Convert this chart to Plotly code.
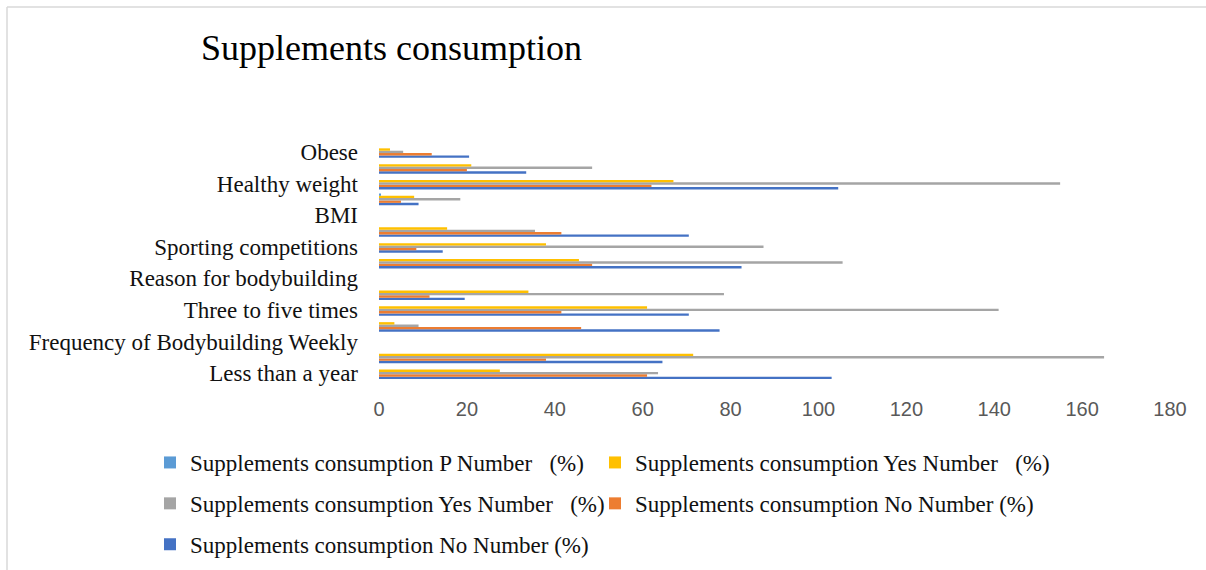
import plotly.graph_objects as go

# Categories, bottom to top (as drawn)
categories = [
    "Less than a year", "More than a year",
    "Frequency of Bodybuilding Weekly", "Less than three times",
    "Three to five times", "More than five times",
    "Reason for bodybuilding", "Health",
    "Sporting competitions", "Beauty",
    "BMI", "Underweight",
    "Healthy weight", "Overweight", "Obese",
]
shown_labels = [
    "Less than a year", "Frequency of Bodybuilding Weekly",
    "Three to five times", "Reason for bodybuilding",
    "Sporting competitions", "BMI", "Healthy weight", "Obese",
]

no_number = [103, 64.5, None, 77.5, 70.5, 19.5, None, 82.5, 14.5, 70.5, None, 9, 104.5, 33.5, 20.5]
no_pct = [61, 38, None, 46, 41.5, 11.5, None, 48.5, 8.5, 41.5, None, 5, 62, 20, 12]
yes_number = [63.5, 165, None, 9, 141, 78.5, None, 105.5, 87.5, 35.5, None, 18.5, 155, 48.5, 5.5]
yes_pct = [27.5, 71.5, None, 3.5, 61, 34, None, 45.5, 38, 15.5, None, 8, 67, 21, 2.5]
p_number = [0, 0, None, 0, 0, 0, None, 0, 0, 0, None, 0.4, 0, 0, 0]

x_ticks = [0, 20, 40, 60, 80, 100, 120, 140, 160, 180]

NB = "\u00a0"
# (name, values, colour, legend column, rank within column)
series = [
    ("Supplements consumption No Number (%)", no_number, "#4472C4", "legend", 3),
    ("Supplements consumption No Number (%)", no_pct, "#ED7D31", "legend2", 2),
    ("Supplements consumption Yes Number" + NB * 3 + "(%)", yes_number, "#A5A5A5", "legend", 2),
    ("Supplements consumption Yes Number" + NB * 3 + "(%)", yes_pct, "#FFC000", "legend2", 1),
    ("Supplements consumption P Number" + NB * 3 + "(%)", p_number, "#5B9BD5", "legend", 1),
]

fig = go.Figure()
for i, (name, vals, color, leg, rank) in enumerate(series):
    fig.add_trace(go.Bar(
        y=categories, x=vals, name=name, orientation="h",
        legend=leg, legendgroup=f"g{i}", legendrank=rank,
        marker=dict(color=color, line=dict(width=0)),
    ))

serif = "Liberation Serif"
L, R, T, B = 379, 36, 144, 189
PW, PH = 1206 - L - R, 570 - T - B


def px_x(px):
    return (px - L) / PW


def px_y(py):
    return (570 - B - py) / PH


legend_common = dict(
    orientation="v", traceorder="grouped", tracegroupgap=8,
    xanchor="left", yanchor="top",
    font=dict(family=serif, size=23, color="#111111"),
    bgcolor="rgba(0,0,0,0)",
)

fig.update_layout(
    width=1206, height=570,
    margin=dict(l=L, r=R, t=T, b=B, autoexpand=False),
    paper_bgcolor="white", plot_bgcolor="white",
    barmode="group", bargap=0.25, bargroupgap=0,
    title=dict(text="Supplements consumption", x=201 / 1206, xanchor="left",
               xref="container", y=1 - 47 / 570, yanchor="middle", yref="container",
               font=dict(family=serif, size=36, color="#000000")),
    xaxis=dict(range=[0, 180], tickvals=x_ticks, showgrid=False, zeroline=False,
               showline=False, ticks="", ticklabelstandoff=14,
               tickfont=dict(family="Liberation Sans", size=20, color="#595959")),
    yaxis=dict(type="category", categoryorder="array", categoryarray=categories,
               tickvals=shown_labels, showgrid=False, zeroline=False, showline=False,
               ticks="", ticklabelstandoff=20,
               tickfont=dict(family=serif, size=23, color="#111111")),
    legend=dict(x=px_x(150), y=px_y(441), **legend_common),
    legend2=dict(x=px_x(595), y=px_y(441), **legend_common),
    shapes=[
        dict(type="line", xref="paper", yref="paper", x0=px_x(7), x1=px_x(1206),
             y0=px_y(7), y1=px_y(7), line=dict(color="#D9D9D9", width=1.5)),
        dict(type="line", xref="paper", yref="paper", x0=px_x(7), x1=px_x(7),
             y0=px_y(7), y1=px_y(570), line=dict(color="#D9D9D9", width=1.5)),
    ],
)

fig.write_html("out.html")
